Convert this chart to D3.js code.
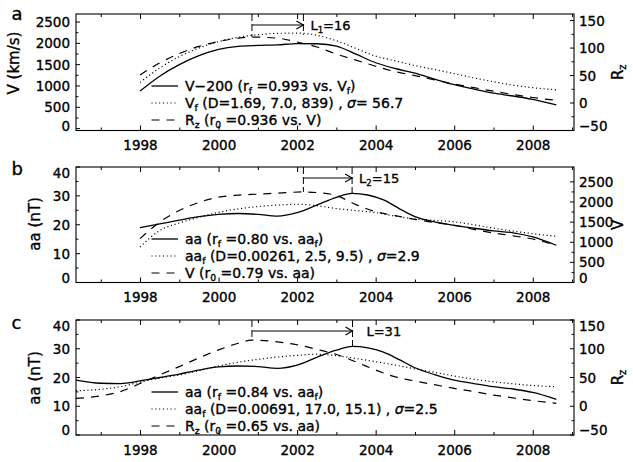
<!DOCTYPE html>
<html>
<head>
<meta charset="utf-8">
<script src="https://cdn.jsdelivr.net/npm/d3@7"></script>
<style>
  html, body { margin: 0; padding: 0; background: #fff; }
  svg { display: block; }
  text { font-family: "DejaVu Sans", sans-serif; fill: #000; stroke: #000; stroke-width: 0.35px; }
</style>
</head>
<body>
<svg id="chart" width="633" height="462"></svg>
<script>
// ---------- time axis ----------
const yearTicks  = [1997, 1998, 1999, 2000, 2001, 2002, 2003, 2004, 2005, 2006, 2007, 2008, 2009];
const yearLabels = [1998, 2000, 2002, 2004, 2006, 2008];

// ---------- value axes ----------
const vTicks   = [0, 500, 1000, 1500, 2000, 2500];
const vMinor   = [250, 750, 1250, 1750, 2250];
const rzTicks  = [-50, 0, 50, 100, 150];
const rzMinor  = [-25, 25, 75, 125];
const aaTicks  = [0, 10, 20, 30, 40];
const aaMinor  = [5, 15, 25, 35];

// ---------- panel a : solar wind speed and sunspot number ----------
const yearsA     = [1998, 1998.5, 1999, 1999.5, 2000, 2000.5, 2001, 2001.5, 2002, 2002.5, 2003, 2003.5,
                    2004, 2004.5, 2005, 2005.5, 2006, 2006.5, 2007, 2007.5, 2008, 2008.6];
const vMinus200A = [880, 1230, 1500, 1710, 1860, 1930, 1950, 1965, 1995, 1990, 1935, 1745,
                    1545, 1410, 1300, 1160, 1030, 925, 830, 765, 685, 555];
const vFitA      = [1085, 1420, 1690, 1890, 2040, 2140, 2200, 2235, 2240, 2190, 2060, 1880,
                    1700, 1590, 1480, 1385, 1290, 1190, 1100, 1020, 960, 910];
const yearsRzA   = [1998, 1998.5, 1999, 1999.5, 2000, 2000.5, 2000.85, 2001.5, 2002, 2002.5, 2003, 2003.5,
                    2004, 2004.5, 2005, 2005.5, 2006, 2006.5, 2007, 2007.5, 2008, 2008.6];
const rzA        = [51, 73, 90, 103, 112, 118, 120, 118, 111, 102, 89, 78,
                    67, 57, 50, 42, 34.5, 28, 21.5, 15.5, 10, 5];

// ---------- panel b : aa index and solar wind speed ----------
const yearsAaB = [1998, 1998.5, 1999, 1999.5, 2000, 2000.5, 2001, 2001.5, 2002, 2002.5, 2003, 2003.4,
                  2003.8, 2004.2, 2004.6, 2005, 2005.5, 2006, 2006.5, 2007, 2007.5, 2008, 2008.6];
const aaB      = [19.0, 20.3, 21.6, 22.8, 23.6, 23.9, 23.6, 23.0, 24.2, 26.8, 29.5, 30.9,
                  30.3, 28.6, 25.6, 22.8, 21.0, 19.8, 18.8, 17.9, 17.2, 15.8, 12.9];
const yearsFitB = [1998, 1998.5, 1999, 1999.5, 2000, 2000.5, 2001, 2001.5, 2002, 2002.5, 2003, 2003.5,
                   2004, 2004.5, 2005, 2005.5, 2006, 2006.5, 2007, 2007.5, 2008, 2008.6];
const aaFitB    = [12.3, 18.0, 20.6, 22.6, 24.3, 25.5, 26.3, 26.8, 27.1, 26.6, 25.6, 24.9,
                   24.2, 23.0, 22.0, 21.5, 21.0, 20.0, 18.8, 17.8, 16.9, 16.0];
const yearsVB  = [1998, 1998.5, 1999, 1999.5, 2000, 2000.5, 2001, 2001.5, 2002.16, 2002.5, 2003, 2003.5,
                  2004, 2004.5, 2005, 2005.5, 2006, 2006.5, 2007, 2007.5, 2008, 2008.6];
const vB       = [1090, 1500, 1790, 1990, 2120, 2170, 2195, 2220, 2250, 2235, 2160, 1935,
                  1760, 1660, 1570, 1490, 1420, 1320, 1230, 1160, 1080, 925];

// ---------- panel c : aa index and sunspot number ----------
const yearsAaC = [1996.37, 1997, 1997.5, 1998, 1998.5, 1999, 1999.5, 2000, 2000.5, 2001, 2001.5, 2002, 2002.5,
                  2003, 2003.41, 2003.8, 2004.2, 2004.6, 2005, 2005.5, 2006, 2006.5, 2007, 2007.5, 2008, 2008.6];
const aaC      = [19.1, 18.0, 17.9, 18.8, 20.0, 21.2, 22.6, 23.7, 24.0, 23.8, 23.2, 24.3, 27.0,
                  29.5, 30.8, 30.3, 28.8, 26.2, 23.4, 21.0, 19.1, 17.9, 16.8, 16.0, 14.8, 12.4];
const yearsFitC = [1996.37, 1997, 1997.5, 1998, 1998.5, 1999, 1999.5, 2000, 2000.5, 2001, 2001.5, 2002, 2002.5,
                   2003, 2003.5, 2004, 2004.5, 2005, 2005.5, 2006, 2006.5, 2007, 2007.5, 2008, 2008.6];
const aaFitC    = [15.4, 15.9, 16.8, 18.4, 19.8, 20.9, 22.4, 24.0, 25.3, 26.3, 27.1, 27.7, 28.1,
                   27.6, 26.6, 25.5, 24.3, 23.0, 21.8, 20.5, 19.4, 18.5, 17.8, 17.2, 16.8];
const yearsRzC = [1996.37, 1997, 1997.5, 1998, 1998.5, 1999, 1999.5, 2000, 2000.5, 2000.85, 2001.5, 2002, 2002.5,
                  2003, 2003.5, 2004, 2004.5, 2005, 2005.5, 2006, 2006.5, 2007, 2007.5, 2008, 2008.6];
const rzC      = [13.8, 18.0, 25.5, 39.5, 54.5, 69.0, 84.0, 98.0, 109.5, 115, 112, 107, 99,
                  90, 77, 63, 51, 44, 37.5, 31, 25.5, 19.5, 14.5, 9.8, 5];

// ---------- lag markers (peak of right-axis series -> peak of left-axis series) ----------
const lagStartYear  = [2000.85, 2002.16, 2000.85];
const lagStartValue = [120, 2250, 115];      // right-axis units
const lagEndYear    = [2002.16, 2003.40, 2003.41];
const lagEndValue   = [2200, 30.9, 30.8];    // left-axis units (V, aa, aa)
const lagLabels = [
  ["L", {sub: "1"}, "=16"],
  ["L", {sub: "2"}, "=15"],
  ["L=31"]
];

// ---------- legends ----------
const legendA = [
  ["V\u2212200 (r", {sub: "f"}, " =0.993 vs. V", {sub: "f"}, ")"],
  ["V", {sub: "f"}, " (D=1.69, 7.0, 839) , ", {it: "\u03c3"}, "= 56.7"],
  ["R", {sub: "z"}, " (r", {sub: "0"}, " =0.936 vs. V)"]
];
const legendB = [
  ["aa (r", {sub: "f"}, " =0.80 vs. aa", {sub: "f"}, ")"],
  ["aa", {sub: "f"}, " (D=0.00261, 2.5, 9.5) , ", {it: "\u03c3"}, "=2.9"],
  ["V (r", {sub: "0"}, " =0.79 vs. aa)"]
];
const legendC = [
  ["aa (r", {sub: "f"}, " =0.84 vs. aa", {sub: "f"}, ")"],
  ["aa", {sub: "f"}, " (D=0.00691, 17.0, 15.1) , ", {it: "\u03c3"}, "=2.5"],
  ["R", {sub: "z"}, " (r", {sub: "0"}, " =0.65 vs. aa)"]
];

// ======================================================================
const svg = d3.select("#chart");
const X0 = 76, X1 = 574;
const x = d3.scaleLinear().domain([1996.37, 2009.05]).range([X0, X1]);

const TICK_FONT = 13.5;
const STYLE = {
  solid:  {dash: null,      width: 1.3},
  dotted: {dash: "1.1,2.7", width: 1.2},
  dashed: {dash: "8,7",     width: 1.2}
};

// text with subscripts / italic pieces
function richText(parent, segs, size) {
  const t = parent.append("text").attr("font-size", size);
  const drop = size * 0.25;
  let shift = 0;
  segs.forEach(s => {
    const sp = t.append("tspan");
    if (typeof s === "string") {
      sp.attr("dy", -shift).text(s); shift = 0;
    } else if (s.sub !== undefined) {
      sp.attr("dy", drop - shift).attr("font-size", size * 0.66).text(s.sub); shift = drop;
    } else if (s.it !== undefined) {
      sp.attr("dy", -shift).attr("font-style", "italic").text(s.it); shift = 0;
    }
  });
  return t;
}

function drawPanel(p) {
  const g = svg.append("g");
  const yL = d3.scaleLinear().domain(p.leftDomain).range([p.bottom, p.top]);
  const yR = d3.scaleLinear().domain(p.rightDomain).range([p.bottom, p.top]);

  // frame
  g.append("rect").attr("x", X0).attr("y", p.top)
    .attr("width", X1 - X0).attr("height", p.bottom - p.top)
    .attr("fill", "none").attr("stroke", "#000").attr("stroke-width", 1.1);

  // bottom time axis
  const xb = g.append("g").attr("transform", `translate(0,${p.bottom})`)
    .call(d3.axisBottom(x).tickValues(yearTicks).tickSize(-5).tickSizeOuter(0)
      .tickFormat(d => yearLabels.includes(d) ? String(d) : ""));
  // top time axis
  const xt = g.append("g").attr("transform", `translate(0,${p.top})`)
    .call(d3.axisTop(x).tickValues(yearTicks).tickSize(-5).tickSizeOuter(0).tickFormat(""));
  [xb, xt].forEach(a => {
    a.select(".domain").remove();
    a.selectAll(".tick").filter(d => !yearLabels.includes(d))
      .select("line").attr("y2", function() { return +d3.select(this).attr("y2") * 0.6; });
  });
  xb.selectAll("text").attr("y", 19.5).attr("dy", null)
    .attr("font-size", TICK_FONT).attr("font-family", "DejaVu Sans");

  // value axes
  const clampY = v => Math.max(p.top + 5.5, Math.min(p.bottom - 5, v));
  const la = g.append("g").attr("transform", `translate(${X0},0)`)
    .call(d3.axisLeft(yL).tickValues(p.leftTicks.concat(p.leftMinor)).tickSize(-4).tickSizeOuter(0)
      .tickPadding(6).tickFormat(d => p.leftTicks.includes(d) ? String(d).replace("-", "\u2212") : ""));
  const ra = g.append("g").attr("transform", `translate(${X1},0)`)
    .call(d3.axisRight(yR).tickValues(p.rightTicks.concat(p.rightMinor)).tickSize(-4).tickSizeOuter(0)
      .tickPadding(5).tickFormat(d => p.rightTicks.includes(d) ? String(d).replace("-", "\u2212") : ""));
  [[la, yL, p.leftMinor], [ra, yR, p.rightMinor]].forEach(([a, sc, minor]) => {
    a.select(".domain").remove();
    a.selectAll(".tick").filter(d => minor.includes(d))
      .select("line").attr("x2", function() { return +d3.select(this).attr("x2") * 0.6; });
    a.selectAll(".tick").attr("transform", d => `translate(0,${sc(d)})`);
    a.selectAll(".tick text")
      .attr("font-size", TICK_FONT).attr("font-family", "DejaVu Sans")
      .attr("dy", null).attr("dominant-baseline", "central")
      .attr("y", d => clampY(sc(d)) - sc(d));
  });

  // series
  p.series.forEach(s => {
    const sc = s.axis === "right" ? yR : yL;
    const line = d3.line().x(d => x(d[0])).y(d => sc(d[1])).curve(d3.curveMonotoneX);
    const st = STYLE[s.style];
    g.append("path").datum(d3.zip(s.years, s.values))
      .attr("d", line).attr("fill", "none").attr("stroke", "#000")
      .attr("stroke-width", st.width).attr("stroke-dasharray", st.dash);
  });

  // lag marker
  const xs = x(lagStartYear[p.idx]), xe = x(lagEndYear[p.idx]);
  const ay = p.top + 11;
  g.append("line").attr("x1", xs).attr("x2", xs).attr("y1", p.top).attr("y2", yR(lagStartValue[p.idx]))
    .attr("stroke", "#000").attr("stroke-width", 1).attr("stroke-dasharray", "7,3");
  g.append("line").attr("x1", xe).attr("x2", xe).attr("y1", p.top).attr("y2", yL(lagEndValue[p.idx]))
    .attr("stroke", "#000").attr("stroke-width", 1).attr("stroke-dasharray", "7,3");
  g.append("line").attr("x1", xs).attr("x2", xe).attr("y1", ay).attr("y2", ay)
    .attr("stroke", "#000").attr("stroke-width", 1.1);
  g.append("path").attr("d", `M${xe - 7},${ay - 4}L${xe},${ay}L${xe - 7},${ay + 4}`)
    .attr("fill", "none").attr("stroke", "#000").attr("stroke-width", 1.1);
  richText(g, lagLabels[p.idx], 13).attr("x", xe + p.lagLabelGap).attr("y", ay + 5);

  // legend
  p.legend.forEach((segs, i) => {
    const by = p.top + 76.5 + i * 17;
    const st = STYLE[p.series[i].style];
    g.append("line").attr("x1", 151.5).attr("x2", 178).attr("y1", by - 4.5).attr("y2", by - 4.5)
      .attr("stroke", "#000").attr("stroke-width", st.width).attr("stroke-dasharray", st.dash);
    richText(g, segs, 14).attr("x", 185).attr("y", by);
  });

  // axis titles
  richText(g, p.leftTitle, 15)
    .attr("text-anchor", "middle").attr("dominant-baseline", "central")
    .attr("transform", `translate(${p.leftTitleX},${p.leftTitleY}) rotate(-90)`);
  richText(g, p.rightTitle, 15)
    .attr("text-anchor", "middle").attr("dominant-baseline", "central")
    .attr("transform", `translate(618,${(p.top + p.bottom) / 2}) rotate(-90)`);

  // panel letter
  g.append("text").attr("x", 11.5).attr("y", p.letterY).attr("font-size", 18).text(p.letter);
}

const panels = [
  {
    idx: 0, letter: "a", letterY: 19.5, top: 14, bottom: 130.5,
    leftDomain: [-44, 2688], rightDomain: [-50, 162],
    leftTicks: vTicks, leftMinor: vMinor, rightTicks: rzTicks, rightMinor: rzMinor,
    leftTitle: ["V (km/s)"], leftTitleX: 13.5, leftTitleY: 63,
    rightTitle: ["R", {sub: "z"}],
    series: [
      {years: yearsA,   values: vMinus200A, axis: "left",  style: "solid"},
      {years: yearsA,   values: vFitA,      axis: "left",  style: "dotted"},
      {years: yearsRzA, values: rzA,        axis: "right", style: "dashed"}
    ],
    legend: legendA, lagLabelGap: 7
  },
  {
    idx: 1, letter: "b", letterY: 175, top: 167, bottom: 282.5,
    leftDomain: [0, 40], rightDomain: [0, 2870],
    leftTicks: aaTicks, leftMinor: aaMinor, rightTicks: vTicks, rightMinor: vMinor,
    leftTitle: ["aa (nT)"], leftTitleX: 35, leftTitleY: 224,
    rightTitle: ["V"],
    series: [
      {years: yearsAaB,  values: aaB,    axis: "left",  style: "solid"},
      {years: yearsFitB, values: aaFitB, axis: "left",  style: "dotted"},
      {years: yearsVB,   values: vB,     axis: "right", style: "dashed"}
    ],
    legend: legendB, lagLabelGap: 7
  },
  {
    idx: 2, letter: "c", letterY: 328.5, top: 320, bottom: 435,
    leftDomain: [0, 40], rightDomain: [-50, 150],
    leftTicks: aaTicks, leftMinor: aaMinor, rightTicks: rzTicks, rightMinor: rzMinor,
    leftTitle: ["aa (nT)"], leftTitleX: 35, leftTitleY: 378,
    rightTitle: ["R", {sub: "z"}],
    series: [
      {years: yearsAaC,  values: aaC,    axis: "left",  style: "solid"},
      {years: yearsFitC, values: aaFitC, axis: "left",  style: "dotted"},
      {years: yearsRzC,  values: rzC,    axis: "right", style: "dashed"}
    ],
    legend: legendC, lagLabelGap: 14
  }
];

panels.forEach(drawPanel);
</script>
</body>
</html>
